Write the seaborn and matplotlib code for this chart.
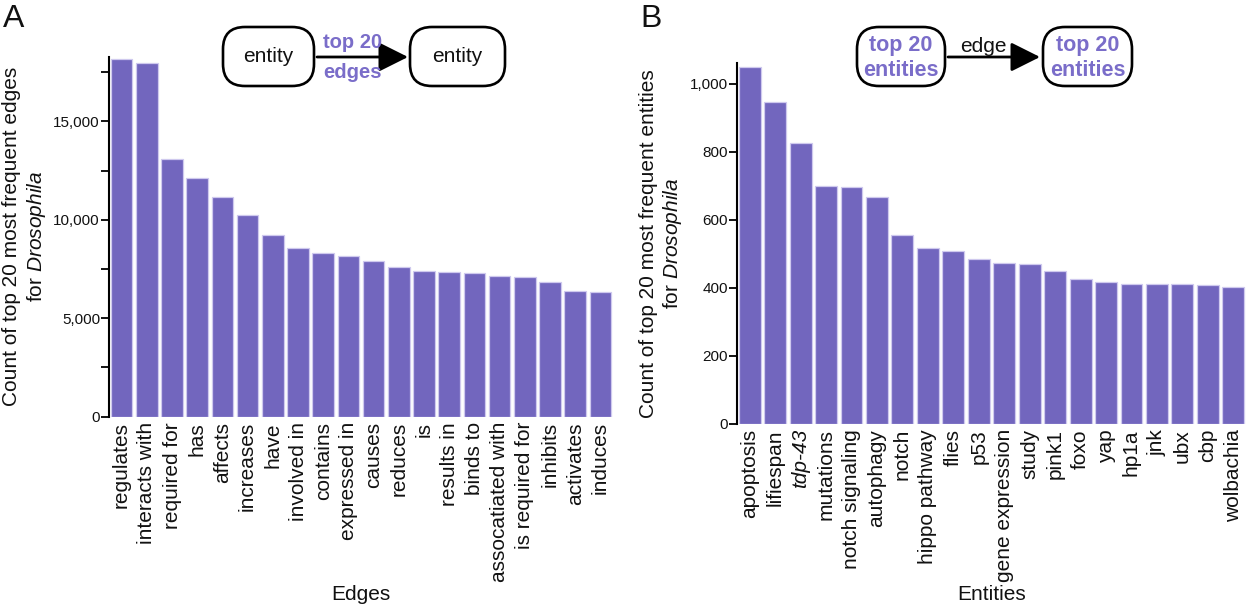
import matplotlib
matplotlib.use("Agg")
import matplotlib.pyplot as plt
import seaborn as sns
import pandas as pd
from matplotlib.patches import FancyBboxPatch
from matplotlib.ticker import MultipleLocator, FuncFormatter

# ---------------- data ----------------
edge_names = ["regulates", "interacts with", "required for", "has", "affects",
              "increases", "have", "involved in", "contains", "expressed in",
              "causes", "reduces", "is", "results in", "binds to",
              "assocatiated with", "is required for", "inhibits", "activates", "induces"]
edge_counts = [18180, 17980, 13070, 12140, 11150, 10220, 9210, 8550, 8290, 8180,
               7890, 7600, 7380, 7345, 7315, 7145, 7090, 6825, 6355, 6350]

entity_names = ["apoptosis", "lifiespan", "tdp-43", "mutations", "notch signaling",
                "autophagy", "notch", "hippo pathway", "flies", "p53",
                "gene expression", "study", "pink1", "foxo", "yap",
                "hp1a", "jnk", "ubx", "cbp", "wolbachia"]
entity_counts = [1048, 945, 827, 698, 697, 667, 555, 516, 508, 483,
                 471, 470, 449, 426, 417, 411, 410, 410, 407, 403]

df_edges = pd.DataFrame({"name": edge_names, "count": edge_counts})
df_ent = pd.DataFrame({"name": entity_names, "count": entity_counts})

# ---------------- style ----------------
sns.set_theme(style="ticks")
plt.rcParams["font.family"] = ["Liberation Sans", "DejaVu Sans"]
plt.rcParams["mathtext.fontset"] = "custom"
plt.rcParams["mathtext.rm"] = "Liberation Sans"
plt.rcParams["mathtext.it"] = "Liberation Sans:italic"

BAR = "#7266BE"
EDGE = "#cfc9ee"
PURPLE = "#7A6DC9"

W, H = 1246, 610
fig = plt.figure(figsize=(W / 100, H / 100), dpi=100)

def px_axes(x0, y0, x1, y1):
    return fig.add_axes([x0 / W, 1 - y1 / H, (x1 - x0) / W, (y1 - y0) / H])

axA = px_axes(109, 57, 613, 416.5)
axB = px_axes(737, 63, 1246, 423.5)

comma = FuncFormatter(lambda v, p: f"{int(v):,}")

for ax, df, ymax, major, minor, xlabel, ylabel in [
    (axA, df_edges, 18270, 5000, 2500, "Edges",
     "Count of top 20 most frequent edges\nfor $\\it{Drosophila}$"),
    (axB, df_ent, 1061, 200, 200, "Entities",
     "Count of top 20 most frequent entities\nfor $\\it{Drosophila}$"),
]:
    sns.barplot(data=df, x="name", y="count", color=BAR, saturation=1,
                width=0.86, edgecolor=EDGE, linewidth=0.9, ax=ax)
    ax.set_xlim(-0.5, 19.5)
    ax.set_ylim(0, ymax)
    ax.yaxis.set_major_locator(MultipleLocator(major))
    ax.yaxis.set_minor_locator(MultipleLocator(minor))
    ax.yaxis.set_major_formatter(comma)
    ax.tick_params(axis="y", which="both", length=5.5, width=1.3, color="black",
                   labelsize=11, pad=1, labelcolor="#111111")
    ax.tick_params(axis="x", length=0, labelsize=15, pad=4, rotation=90,
                   labelcolor="#111111")
    for s in ["top", "right", "bottom"]:
        ax.spines[s].set_visible(False)
    ax.spines["left"].set_linewidth(1.5)
    ax.spines["left"].set_color("black")
    ax.set_xlabel(xlabel, fontsize=15, labelpad=2, color="#111111")
    ax.set_ylabel(ylabel, fontsize=15, labelpad=4, color="#111111",
                  linespacing=1.2)

axB.get_xticklabels()[2].set_fontstyle("italic")

# ---------------- diagrams & panel letters ----------------
ov = fig.add_axes([0, 0, 1, 1], zorder=5)
ov.set_xlim(0, W)
ov.set_ylim(H, 0)
ov.axis("off")
ov.patch.set_alpha(0)

def box(x0, x1, y0=27, y1=86):
    ov.add_patch(FancyBboxPatch((x0, y0), x1 - x0, y1 - y0,
                                boxstyle="round,pad=0,rounding_size=22",
                                fc="white", ec="black", lw=1.9))

def arrow(x0, x1, y=57):
    ov.annotate("", xy=(x1, y), xytext=(x0, y),
                arrowprops=dict(arrowstyle="-|>,head_length=0.9,head_width=0.45",
                                color="black", lw=2, shrinkA=0, shrinkB=0,
                                mutation_scale=20))

# panel A
box(223, 314)
box(410, 505)
ov.text(268.5, 56, "entity", ha="center", va="center", fontsize=15, color="#111111")
ov.text(457.5, 56, "entity", ha="center", va="center", fontsize=15, color="#111111")
arrow(317, 408)
ov.text(353, 43, "top 20", ha="center", va="center", fontsize=14.5,
        fontweight="bold", color=PURPLE)
ov.text(353, 72, "edges", ha="center", va="center", fontsize=14.5,
        fontweight="bold", color=PURPLE)

# panel B
box(857, 945)
box(1043, 1132)
for cx in (901, 1087.5):
    ov.text(cx, 45, "top 20", ha="center", va="center", fontsize=15.5,
            fontweight="bold", color=PURPLE)
    ov.text(cx, 70, "entities", ha="center", va="center", fontsize=15.5,
            fontweight="bold", color=PURPLE)
arrow(948, 1040)
ov.text(983, 46, "edge", ha="center", va="center", fontsize=15, color="#111111")

ov.text(3, 19, "A", ha="left", va="center", fontsize=23, color="#111111")
ov.text(640, 19, "B", ha="left", va="center", fontsize=23, color="#111111")

fig.savefig("out.png", dpi=100)
